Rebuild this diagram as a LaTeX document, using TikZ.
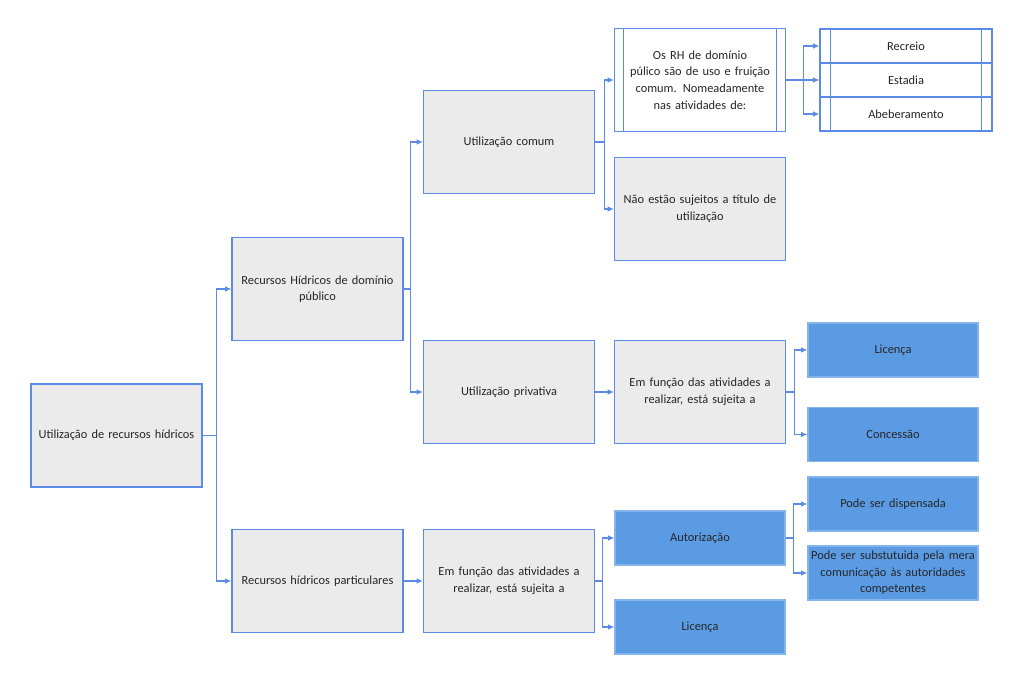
\documentclass[tikz,border=0pt]{standalone}
\usepackage{fontspec}
\setmainfont{Carlito}
\usepackage{tikz}
\usetikzlibrary{calc, arrows.meta, positioning}
\definecolor{RHline}{HTML}{5B8BE6}
\definecolor{RHgrey}{HTML}{EBEBEB}
\definecolor{RHblue}{HTML}{5B9BE4}
\definecolor{RHtext}{HTML}{262626}

\tikzset{
  box/.style={draw=RHline, line width=0.8pt, minimum width=4.275cm, minimum height=2.575cm,
    text width=4.1cm, align=center, inner sep=1pt, text=RHtext,
    font=\fontsize{8.8}{11.8}\selectfont},
  greybox/.style={box, fill=RHgrey},
  whitebox/.style={box, fill=white},
  bluebox/.style={box, fill=RHblue, draw=RHblue!75!white, minimum width=4.25cm, minimum height=1.35cm},
  listbox/.style={box, fill=white, minimum width=4.3cm, minimum height=0.85cm},
  conn/.style={draw=RHline, line width=0.8pt, -{Latex[length=4.5pt,width=4pt]}}
}

\begin{document}
\begin{tikzpicture}[x=0.025cm, y=-0.025cm]
\useasboundingbox (0,0) rectangle (1024,683);
% Root and first level
\node[greybox] (root) at (116.5,435.5) {Utilização de recursos hídricos};
\node[greybox] (pub)  at (317.5,289) {Recursos Hídricos de domínio\\público};
\node[greybox] (part) at (317.5,581) {Recursos hídricos particulares};
% Public water resources
\node[greybox] (comum) at (509,142) {Utilização comum};
\node[greybox] (priv)  at (509,392) {Utilização privativa};
\node[whitebox] (osrh) at (700,80) {Os RH de domínio\\púlico são de uso e fruição\\comum. Nomeadamente\\nas atividades de:};
\draw[RHline, line width=0.8pt] ([xshift=0.25cm]osrh.north west) -- ([xshift=0.25cm]osrh.south west);
\draw[RHline, line width=0.8pt] ([xshift=-0.25cm]osrh.north east) -- ([xshift=-0.25cm]osrh.south east);
\node[greybox] (naosuj) at (700,209) {Não estão sujeitos a título de\\utilização};
\node[greybox] (funcpriv) at (700,392) {Em função das atividades a\\realizar, está sujeita a};
% Activities list
\node[listbox] (recreio) at (906,46) {Recreio};
\node[listbox] (estadia) at (906,80) {Estadia};
\node[listbox] (abeb)    at (906,114) {Abeberamento};
\foreach \n in {recreio, estadia, abeb} {
  \draw[RHline, line width=0.8pt] ([xshift=0.27cm]\n.north west) -- ([xshift=0.27cm]\n.south west);
  \draw[RHline, line width=0.8pt] ([xshift=-0.27cm]\n.north east) -- ([xshift=-0.27cm]\n.south east);
}
\node[bluebox] (lic1) at (893,350) {Licença};
\node[bluebox] (conc) at (893,434.5) {Concessão};
% Private water resources
\node[greybox] (funcpart) at (509,581) {Em função das atividades a\\realizar, está sujeita a};
\node[bluebox] (autor) at (700,538) {Autorização};
\node[bluebox] (lic2)  at (700,627) {Licença};
\node[bluebox] (disp)  at (893,504) {Pode ser dispensada};
\node[bluebox] (subst) at (893,573) {Pode ser substutuida pela mera\\comunicação às autoridades\\competentes};
% Connectors
\draw[conn] (root.east) -- ++(14,0) |- (pub.west);
\draw[conn] (root.east) -- ++(14,0) |- (part.west);
\draw[conn] (pub.east) -- ++(7,0) |- (comum.west);
\draw[conn] (pub.east) -- ++(7,0) |- (priv.west);
\draw[conn] (comum.east) -- ++(9,0) |- (osrh.west);
\draw[conn] (comum.east) -- ++(9,0) |- (naosuj.west);
\draw[conn] (osrh.east) -- ++(17,0) |- (recreio.west);
\draw[conn] (osrh.east) -- ++(17,0) |- (estadia.west);
\draw[conn] (osrh.east) -- ++(17,0) |- (abeb.west);
\draw[conn] (priv.east) -- (funcpriv.west);
\draw[conn] (funcpriv.east) -- ++(8,0) |- (lic1.west);
\draw[conn] (funcpriv.east) -- ++(8,0) |- (conc.west);
\draw[conn] (part.east) -- (funcpart.west);
\draw[conn] (funcpart.east) -- ++(7,0) |- (autor.west);
\draw[conn] (funcpart.east) -- ++(7,0) |- (lic2.west);
\draw[conn] (autor.east) -- ++(8,0) |- (disp.west);
\draw[conn] (autor.east) -- ++(8,0) |- (subst.west);
\end{tikzpicture}
\end{document}
